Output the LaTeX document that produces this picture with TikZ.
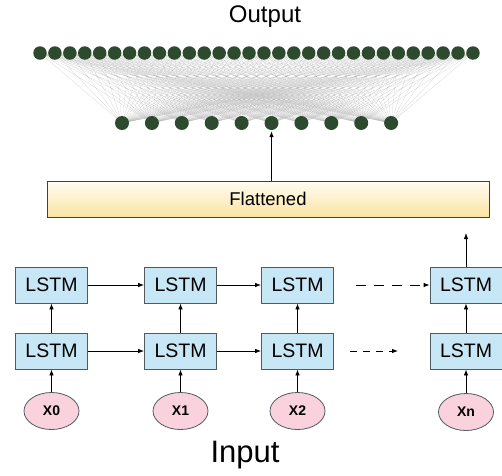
\documentclass[tikz,border=0pt]{standalone}
\usepackage{fontspec}
\setmainfont{Liberation Sans}
\usetikzlibrary{shapes.geometric,arrows.meta}
\definecolor{lstmfill}{HTML}{C7E6F6}
\definecolor{lstmdraw}{HTML}{505A60}
\definecolor{xfill}{HTML}{F9D2DE}
\definecolor{dotc}{HTML}{2E4A2E}
\definecolor{flattop}{HTML}{FFFDF2}
\definecolor{flatbot}{HTML}{FBE3A2}
\tikzset{
  x=1pt, y=-1pt,
  lstm/.style={draw=lstmdraw, line width=0.8pt, fill=lstmfill, minimum width=72pt, minimum height=36pt, inner sep=0pt, font=\fontsize{19.5}{19.5}\selectfont},
  xin/.style={ellipse, draw=lstmdraw, line width=0.8pt, fill=xfill, minimum width=55pt, minimum height=37pt, inner sep=0pt, font=\fontsize{14}{14}\selectfont\bfseries},
  dot/.style={circle, fill=dotc, minimum size=13.5pt, inner sep=0pt},
  sdot/.style={circle, fill=dotc, minimum size=14pt, inner sep=0pt},
  conn/.style={draw=black!35, line width=0.15pt, opacity=0.6},
  arr/.style={-{Latex[length=6pt,width=4.5pt]}, line width=0.8pt, black},
  darr/.style={arr, dash pattern=on 10pt off 8pt},
  darr2/.style={arr, dash pattern=on 7pt off 6pt},
}
\begin{document}
\begin{tikzpicture}
\useasboundingbox (0,0) rectangle (502,475);
% output text
\node (outlbl) at (265,17) {\fontsize{24}{24}\selectfont Output};
% dots
\foreach \i in {0,...,29} {
  \coordinate (t\i) at ({40+\i*14.93},53);
}
\foreach \j in {0,...,9} {
  \coordinate (b\j) at ({122+\j*29.9},123);
}
\foreach \i in {0,...,29} {
  \foreach \j in {0,...,9} {
    \draw[conn] (t\i) -- (b\j);
  }
}
\foreach \i in {0,...,29} {
  \node[dot] (td\i) at (t\i) {};
}
\foreach \j in {0,...,9} {
  \node[sdot] (bd\j) at (b\j) {};
}
% flattened
\node[draw=black!75, line width=0.8pt, top color=flattop, bottom color=flatbot, minimum width=442pt, minimum height=36pt, inner sep=0pt, font=\fontsize{18.5}{18.5}\selectfont] (flat) at (268,199) {Flattened};
\draw[arr] (flat.north -| bd5) -- ([yshift=-1pt]bd5.south);
% LSTMs
\node[lstm] (u1) at (51.5,285) {LSTM};
\node[lstm] (u2) at (180.5,285) {LSTM};
\node[lstm] (u3) at (297.5,285) {LSTM};
\node[lstm] (u4) at (466,285) {LSTM};
\node[lstm] (l1) at (51.5,351) {LSTM};
\node[lstm] (l2) at (180.5,351) {LSTM};
\node[lstm] (l3) at (297.5,351) {LSTM};
\node[lstm] (l4) at (466,351) {LSTM};
% inputs
\node[xin] (x0) at (51.5,411) {X0};
\node[xin] (x1) at (180.5,411) {X1};
\node[xin] (x2) at (297.5,411) {X2};
\node[xin] (xn) at (466,412) {Xn};
\node (inlbl) at (245,455) {\fontsize{31}{31}\selectfont Input};
% arrows
\coordinate (topout) at (466,233);
\draw[arr] (u4.north) -- (topout);
\draw[arr] (u1) -- (u2);
\draw[arr] (u2) -- (u3);
\draw[arr] (l1) -- (l2);
\draw[arr] (l2) -- (l3);
\draw[darr] ([xshift=22pt]u3.east) -- (u4.west);
\coordinate (ldend) at (398,351);
\draw[darr2] ([xshift=16pt]l3.east) -- (ldend);
\foreach \k in {1,2,3,4} {
  \draw[arr] (l\k.north) -- (u\k.south);
}
\draw[arr] (x0.north) -- (l1.south);
\draw[arr] (x1.north) -- (l2.south);
\draw[arr] (x2.north) -- (l3.south);
\draw[arr] (xn.north) -- (l4.south);
\end{tikzpicture}
\end{document}
